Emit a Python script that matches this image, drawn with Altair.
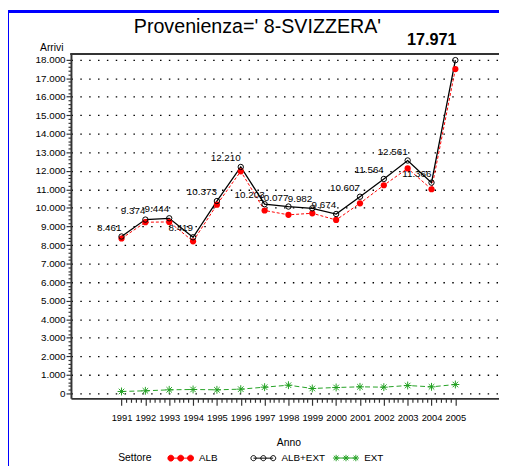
import altair as alt
import pandas as pd

# ---- data ----
years = list(range(1991, 2006))
alb_ext = [8461, 9374, 9444, 8419, 10373, 12210, 10203, 10077, 9982, 9674,
           10607, 11564, 12561, 11366, 17971]
ext = [107, 143, 196, 214, 196, 232, 339, 446, 268, 321, 357, 339, 428, 357, 482]
alb = [8354, 9231, 9248, 8205, 10177, 11978, 9864, 9631, 9714, 9353,
       10250, 11225, 12133, 11009, 17489]
series = ["ALB", "ALB+EXT", "EXT"]
stroke_colors = ["#ff0000", "#000000", "#22a022"]
fill_colors = ["#ff0000", "#ffffff", "#22a022"]
title_text = "Provenienza=' 8-SVIZZERA'"
x_ticks = [round(1991 + 0.2 * i, 1) for i in range(71)]
y_ticks = list(range(0, 18001, 200))

FONT = "Liberation Sans, Arial, sans-serif"
W, H = 435, 350

rows = []
for name, vals in zip(series, [alb, alb_ext, ext]):
    for yr, v in zip(years, vals):
        rows.append({"Settore": name, "Anno": yr, "Arrivi": v})
df = pd.DataFrame(rows)

is_major_x = "abs(datum.value - round(datum.value)) < 0.01"
is_major_y = "datum.value % 1000 === 0"

X = alt.X(
    "Anno:Q",
    scale=alt.Scale(domain=[1988.88, 2006.83], nice=False, zero=False),
    axis=alt.Axis(
        values=x_ticks, labelExpr=f"{is_major_x} ? format(datum.value, 'd') : ''",
        tickSize={"condition": {"test": is_major_x, "value": 7}, "value": 4},
        tickColor="#333333", tickWidth=1.2, domainColor="#333333", domainWidth=2,
        labelFont=FONT, labelFontSize=9.5, labelColor="#000000", labelPadding=8,
        labelOverlap=False, labelFlush=False, grid=False,
        title="Anno", titleFont=FONT, titleFontSize=10.5, titleFontWeight="normal",
        titleColor="#000000", titleX=221, titleY=45, titleBaseline="middle",
        titleAlign="center",
    ),
)
Y = alt.Y(
    "Arrivi:Q",
    scale=alt.Scale(domain=[-265, 18302], nice=False, zero=False),
    axis=alt.Axis(
        values=y_ticks,
        labelExpr=f"{is_major_y} ? replace(format(datum.value, ','), ',', '.') : ''",
        tickSize={"condition": {"test": is_major_y, "value": 5}, "value": 3},
        tickColor="#333333", tickWidth=1.2, domainColor="#333333", domainWidth=2,
        labelFont=FONT, labelFontSize=10, labelColor="#000000", labelPadding=1,
        labelOverlap=False, labelFlush=False,
        grid=True, gridColor="#000000", gridDash=[1.5, 7.5], gridWidth=1.3,
        gridOpacity={"condition": {"test": is_major_y, "value": 1}, "value": 0},
        title="Arrivi", titleFont=FONT, titleFontSize=10.5, titleFontWeight="normal",
        titleColor="#000000", titleAngle=0, titleX=-20, titleY=-2,
        titleAlign="center", titleBaseline="bottom",
    ),
)

base = alt.Chart(df)


def sel(name):
    return base.transform_filter(alt.datum.Settore == name)


def circles_path(r):
    parts = ["M-0.77,0L0.77,0"]
    for cx in (-0.77, 0, 0.77):
        parts.append(f"M{cx - r:.3f},0A{r},{r} 0 1,0 {cx + r:.3f},0A{r},{r} 0 1,0 {cx - r:.3f},0Z")
    return "".join(parts)


def stars_path(r, d):
    parts = ["M-0.77,0L0.77,0"]
    for cx in (-0.77, 0, 0.77):
        parts.append(
            f"M{cx - r:.3f},0L{cx + r:.3f},0M{cx:.3f},{-r}L{cx:.3f},{r}"
            f"M{cx - d:.3f},{-d}L{cx + d:.3f},{d}M{cx - d:.3f},{d}L{cx + d:.3f},{-d}"
        )
    return "".join(parts)


asterisk = "M-1,0L1,0M0,-1L0,1M-0.7,-0.7L0.7,0.7M-0.7,0.7L0.7,-0.7"
legend_shapes = [circles_path(0.23), circles_path(0.2), stars_path(0.25, 0.18)]

# series lines and markers
ext_line = sel("EXT").mark_line(color="#22a022", strokeWidth=1, strokeDash=[5, 3]).encode(x=X, y=Y)
ext_pts = sel("EXT").mark_point(shape=asterisk, size=64, filled=False, color="#22a022",
                                strokeWidth=1, opacity=1).encode(x=X, y=Y)
blk_line = sel("ALB+EXT").mark_line(color="#000000", strokeWidth=1.3).encode(x=X, y=Y)
red_line = sel("ALB").mark_line(color="#ff0000", strokeWidth=1, strokeDash=[3, 2]).encode(x=X, y=Y)
red_pts = sel("ALB").mark_point(shape="circle", size=40, filled=True, color="#ff0000",
                                opacity=1).encode(x=X, y=Y)
blk_pts = sel("ALB+EXT").mark_point(shape="circle", size=30, filled=False, color="#000000",
                                    strokeWidth=1, opacity=1).encode(x=X, y=Y)

label_expr = "replace(format(datum.Arrivi, ','), ',', '.')"
labels = (
    sel("ALB+EXT").transform_filter(alt.datum.Anno < 2005)
    .transform_calculate(lab=label_expr)
    .mark_text(align="right", baseline="middle", dx=0, dy=-9, font=FONT, fontSize=10, color="#000000")
    .encode(x=X, y=Y, text="lab:N")
)
big_label = (
    sel("ALB+EXT").transform_filter(alt.datum.Anno == 2005)
    .transform_calculate(lab=label_expr)
    .mark_text(align="center", baseline="middle", dx=-24, dy=-20, font=FONT,
               fontSize=16.5, fontWeight="bold", color="#000000")
    .encode(x=X, y=Y, text="lab:N")
)

# chart title (kept as real text, positioned above the plot)
title = base.transform_filter(alt.datum.Anno == 2005).transform_filter(alt.datum.Settore == "ALB").mark_text(
    text=title_text, align="center", baseline="alphabetic", font=FONT, fontSize=20,
    color="#000000",
).encode(x=alt.value(189.5), y=alt.value(-21))

# legend-only layer
leg = alt.Legend(
    orient="none", legendX=48, legendY=397, direction="horizontal",
    title="Settore", titleOrient="left", titleFont=FONT, titleFontSize=10.5,
    titleFontWeight="normal", titleColor="#000000", titlePadding=16,
    titleBaseline="top", titleAnchor="middle",
    labelFont=FONT, labelFontSize=10, labelColor="#000000", labelOffset=5,
    symbolSize=676, symbolStrokeWidth=1, symbolOpacity=1, columnPadding=5,
    gridAlign="all", padding=0,
)
legend_layer = base.mark_point(opacity=0, filled=True).encode(
    shape=alt.Shape("Settore:N", scale=alt.Scale(domain=series, range=legend_shapes), legend=leg),
    fill=alt.Fill("Settore:N", scale=alt.Scale(domain=series, range=fill_colors), legend=leg),
    stroke=alt.Stroke("Settore:N", scale=alt.Scale(domain=series, range=stroke_colors), legend=leg),
)

# frame decorations
top_border = base.mark_rule(color="#333333", strokeWidth=2).encode(
    x=alt.value(0), x2=alt.value(W), y=alt.value(0))
blue_v = base.mark_rule(color="#0000ff", strokeWidth=2).encode(
    x=alt.value(-64), y=alt.value(-43), y2=alt.value(H + 70))
blue_h = base.mark_rule(color="#0000ff", strokeWidth=2).encode(
    x=alt.value(-64), x2=alt.value(W), y=alt.value(-43))

chart = alt.layer(
    top_border, blue_v, blue_h, legend_layer, title,
    ext_line, ext_pts, blk_line, red_line, red_pts, blk_pts, labels, big_label,
).properties(
    width=W, height=H,
    autosize=alt.AutoSizeParams(type="none"),
    padding={"left": 64, "top": 43, "right": 0, "bottom": 65},
).configure_view(stroke=None).configure(background="#ffffff")

chart.save("out.html", embed_options={"renderer": "svg", "actions": False})
